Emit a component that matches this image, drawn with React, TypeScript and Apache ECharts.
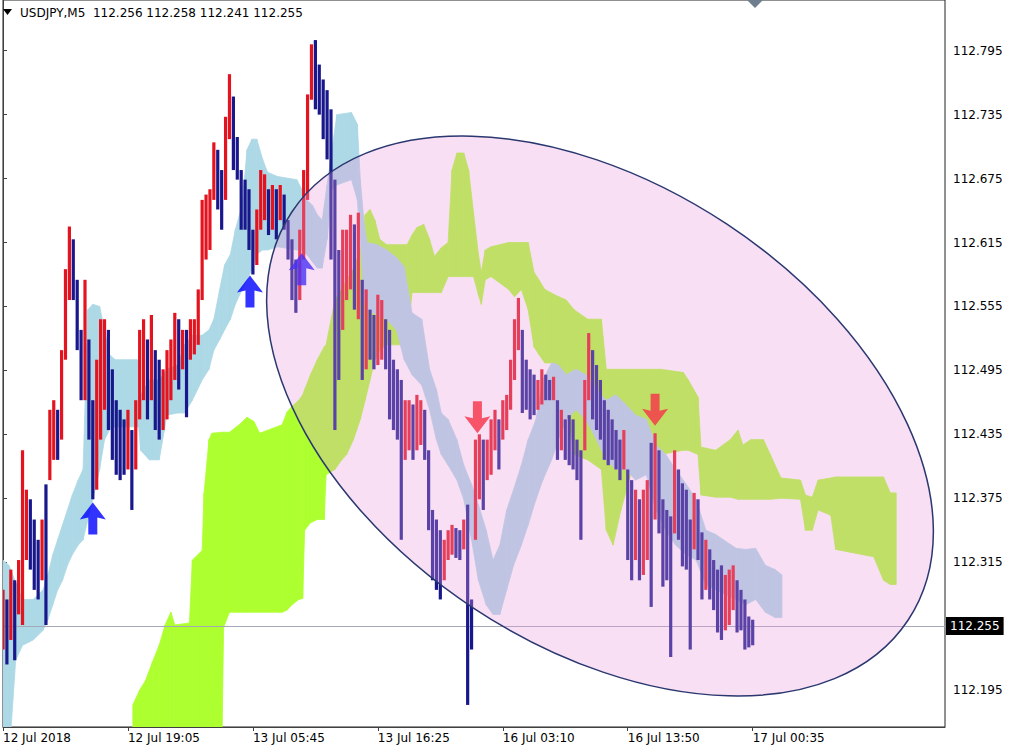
import React, { useEffect, useRef } from "react";
import * as echarts from "echarts";

// ---------- data ----------
const xTickBars = [0, 128, 256, 384, 512, 640, 768];
const xTickLabels = ["12 Jul 2018", "12 Jul 19:05", "13 Jul 05:45", "13 Jul 16:25", "16 Jul 03:10", "16 Jul 13:50", "17 Jul 00:35"];
const yTickValues = [112.195, 112.255, 112.315, 112.375, 112.435, 112.495, 112.555, 112.615, 112.675, 112.735, 112.795];
const symbolName = "USDJPY,M5";
const ohlcLast = [112.256, 112.258, 112.241, 112.255];
const lastPrice = 112.255;

// price: one stroke per 4 M5 bars
const PRICE_STEP = 4;
const priceHigh = [
  112.289, 112.280, 112.308, 112.298, 112.317, 112.420, 112.383, 112.374, 112.355, 112.336,
  112.355, 112.388, 112.458, 112.467, 112.458, 112.514, 112.590, 112.630, 112.618, 112.580,
  112.533, 112.580, 112.524, 112.467, 112.505, 112.543, 112.543, 112.533, 112.496, 112.467,
  112.458, 112.449, 112.458, 112.439, 112.467, 112.533, 112.543, 112.524, 112.547, 112.514,
  112.505, 112.496, 112.514, 112.524, 112.549, 112.543, 112.533, 112.533, 112.543, 112.543,
  112.571, 112.655, 112.660, 112.665, 112.709, 112.702, 112.683, 112.733, 112.773, 112.752,
  112.714, 112.683, 112.674, 112.665, 112.627, 112.646, 112.683, 112.679, 112.665, 112.669,
  112.665, 112.669, 112.660, 112.636, 112.618, 112.599, 112.627, 112.683, 112.754, 112.801,
  112.805, 112.782, 112.768, 112.758, 112.740, 112.674, 112.608, 112.627, 112.627, 112.641,
  112.632, 112.643, 112.580, 112.571, 112.552, 112.547, 112.566, 112.561, 112.543, 112.533,
  112.505, 112.496, 112.486, 112.467, 112.467, 112.463, 112.472, 112.467, 112.458, 112.420,
  112.364, 112.355, 112.345, 112.336, 112.345, 112.350, 112.347, 112.345, 112.355, 112.369,
  112.280, 112.430, 112.435, 112.430, 112.430, 112.449, 112.458, 112.449, 112.467, 112.472,
  112.505, 112.543, 112.563, 112.533, 112.505, 112.496, 112.491, 112.486, 112.496, 112.491,
  112.486, 112.489, 112.467, 112.458, 112.449, 112.453, 112.449, 112.430, 112.420, 112.486,
  112.530, 112.514, 112.500, 112.486, 112.467, 112.458, 112.449, 112.439, 112.430, 112.439,
  112.402, 112.392, 112.383, 112.374, 112.383, 112.392, 112.427, 112.436, 112.420, 112.374,
  112.364, 112.358, 112.420, 112.402, 112.389, 112.383, 112.355, 112.380, 112.374, 112.343,
  112.336, 112.327, 112.317, 112.308, 112.312, 112.303, 112.308, 112.312, 112.298, 112.289,
  112.280, 112.264, 112.261,
];
const priceLow = [
  112.233, 112.219, 112.242, 112.223, 112.266, 112.256, 112.317, 112.308, 112.289, 112.280,
  112.298, 112.256, 112.392, 112.411, 112.411, 112.430, 112.505, 112.561, 112.561, 112.514,
  112.467, 112.467, 112.430, 112.374, 112.383, 112.430, 112.458, 112.439, 112.411, 112.397,
  112.392, 112.397, 112.402, 112.364, 112.402, 112.449, 112.467, 112.449, 112.467, 112.439,
  112.430, 112.439, 112.449, 112.467, 112.486, 112.477, 112.496, 112.451, 112.505, 112.510,
  112.519, 112.561, 112.599, 112.608, 112.655, 112.646, 112.627, 112.655, 112.712, 112.683,
  112.674, 112.627, 112.627, 112.608, 112.585, 112.594, 112.627, 112.636, 112.622, 112.627,
  112.618, 112.636, 112.627, 112.599, 112.561, 112.549, 112.561, 112.599, 112.655, 112.749,
  112.740, 112.735, 112.712, 112.693, 112.599, 112.439, 112.486, 112.533, 112.561, 112.571,
  112.552, 112.543, 112.486, 112.496, 112.505, 112.496, 112.500, 112.505, 112.496, 112.449,
  112.439, 112.430, 112.336, 112.411, 112.420, 112.411, 112.420, 112.425, 112.411, 112.345,
  112.298, 112.289, 112.280, 112.298, 112.317, 112.322, 112.319, 112.317, 112.327, 112.181,
  112.233, 112.336, 112.374, 112.364, 112.392, 112.397, 112.420, 112.402, 112.430, 112.439,
  112.458, 112.486, 112.514, 112.455, 112.458, 112.449, 112.453, 112.458, 112.463, 112.467,
  112.467, 112.467, 112.411, 112.420, 112.411, 112.406, 112.402, 112.392, 112.336, 112.420,
  112.467, 112.449, 112.439, 112.430, 112.411, 112.406, 112.411, 112.402, 112.392, 112.402,
  112.317, 112.298, 112.317, 112.298, 112.303, 112.317, 112.273, 112.355, 112.342, 112.292,
  112.298, 112.226, 112.342, 112.336, 112.311, 112.308, 112.233, 112.327, 112.317, 112.280,
  112.289, 112.280, 112.270, 112.249, 112.242, 112.251, 112.256, 112.270, 112.249, 112.251,
  112.233, 112.235, 112.237,
];

// light-blue band (bar index, upper, lower)
const blueBar = [0, 6, 13, 20, 31, 41, 46, 51, 56, 61, 66, 71, 77, 82, 87, 92, 99, 104, 109, 115, 139, 141, 150, 160, 168, 179, 186, 194, 204, 211, 216, 222, 227, 233, 238, 245, 250, 255, 260, 266, 271, 281, 301, 306, 311, 317, 322, 327, 332, 337, 342, 357, 363, 366, 370, 373, 383, 393, 403, 411, 419, 429, 437, 444, 449, 456, 465, 472, 480, 487, 495, 502, 509, 516, 523, 531, 538, 546, 553, 562, 569, 577, 587, 597, 608, 618, 628, 638, 648, 659, 669, 679, 689, 700, 710, 720, 730, 751, 761, 771, 781, 791, 798];
const blueHigh = [112.317, 112.312, 112.296, 112.280, 112.280, 112.289, 112.303, 112.322, 112.336, 112.350, 112.364, 112.378, 112.392, 112.402, 112.552, 112.557, 112.555, 112.533, 112.510, 112.505, 112.505, 112.472, 112.486, 112.486, 112.496, 112.500, 112.519, 112.528, 112.528, 112.533, 112.543, 112.571, 112.594, 112.604, 112.627, 112.650, 112.702, 112.712, 112.712, 112.693, 112.681, 112.677, 112.674, 112.665, 112.655, 112.650, 112.641, 112.636, 112.669, 112.702, 112.735, 112.737, 112.726, 112.674, 112.632, 112.615, 112.613, 112.608, 112.601, 112.592, 112.549, 112.543, 112.496, 112.477, 112.455, 112.449, 112.430, 112.406, 112.388, 112.369, 112.345, 112.317, 112.331, 112.364, 112.383, 112.406, 112.430, 112.449, 112.486, 112.502, 112.500, 112.491, 112.496, 112.491, 112.477, 112.467, 112.472, 112.463, 112.453, 112.449, 112.425, 112.416, 112.402, 112.388, 112.374, 112.345, 112.341, 112.328, 112.327, 112.328, 112.312, 112.308, 112.303];
const blueLow = [112.129, 112.129, 112.223, 112.237, 112.242, 112.251, 112.261, 112.275, 112.289, 112.298, 112.312, 112.322, 112.331, 112.336, 112.355, 112.374, 112.402, 112.430, 112.439, 112.442, 112.442, 112.420, 112.411, 112.411, 112.453, 112.455, 112.455, 112.467, 112.486, 112.496, 112.514, 112.524, 112.533, 112.543, 112.557, 112.571, 112.580, 112.590, 112.604, 112.608, 112.608, 112.611, 112.608, 112.608, 112.604, 112.597, 112.591, 112.591, 112.618, 112.665, 112.669, 112.674, 112.655, 112.618, 112.561, 112.552, 112.547, 112.543, 112.533, 112.505, 112.491, 112.481, 112.458, 112.430, 112.416, 112.406, 112.392, 112.374, 112.336, 112.298, 112.275, 112.266, 112.266, 112.289, 112.312, 112.331, 112.350, 112.374, 112.392, 112.411, 112.430, 112.449, 112.458, 112.449, 112.430, 112.411, 112.402, 112.402, 112.392, 112.397, 112.364, 112.345, 112.331, 112.322, 112.317, 112.294, 112.289, 112.280, 112.275, 112.280, 112.268, 112.263, 112.263];

// green-yellow band (bar index, upper, lower)
const greenBar = [133, 140, 146, 153, 160, 166, 172, 176, 191, 194, 204, 206, 211, 214, 224, 226, 232, 242, 250, 257, 263, 286, 291, 296, 303, 307, 309, 315, 322, 329, 331, 340, 347, 352, 359, 366, 371, 376, 381, 386, 393, 414, 419, 424, 431, 437, 442, 449, 456, 460, 465, 472, 477, 482, 487, 490, 494, 500, 518, 524, 531, 538, 544, 549, 555, 565, 577, 585, 599, 613, 618, 625, 633, 643, 659, 674, 697, 702, 712, 715, 730, 745, 753, 758, 766, 779, 786, 797, 817, 822, 829, 835, 848, 853, 892, 902, 909, 915];
const greenHigh = [112.181, 112.195, 112.204, 112.221, 112.237, 112.256, 112.268, 112.256, 112.258, 112.317, 112.326, 112.380, 112.430, 112.436, 112.437, 112.437, 112.437, 112.444, 112.451, 112.447, 112.436, 112.444, 112.456, 112.461, 112.467, 112.472, 112.477, 112.491, 112.505, 112.517, 112.519, 112.561, 112.571, 112.580, 112.590, 112.608, 112.641, 112.646, 112.636, 112.618, 112.613, 112.613, 112.622, 112.629, 112.632, 112.618, 112.602, 112.610, 112.615, 112.683, 112.699, 112.699, 112.683, 112.643, 112.604, 112.587, 112.608, 112.611, 112.615, 112.615, 112.615, 112.615, 112.587, 112.580, 112.571, 112.566, 112.561, 112.552, 112.543, 112.543, 112.496, 112.496, 112.496, 112.496, 112.496, 112.496, 112.493, 112.486, 112.470, 112.423, 112.420, 112.430, 112.439, 112.425, 112.430, 112.430, 112.416, 112.394, 112.392, 112.378, 112.376, 112.392, 112.394, 112.395, 112.395, 112.395, 112.380, 112.380];
const greenLow = [112.129, 112.129, 112.129, 112.129, 112.129, 112.129, 112.129, 112.129, 112.129, 112.129, 112.129, 112.129, 112.129, 112.129, 112.129, 112.254, 112.268, 112.268, 112.268, 112.268, 112.268, 112.268, 112.270, 112.275, 112.280, 112.281, 112.345, 112.352, 112.355, 112.355, 112.397, 112.402, 112.411, 112.416, 112.430, 112.449, 112.467, 112.486, 112.505, 112.514, 112.519, 112.519, 112.568, 112.568, 112.568, 112.568, 112.568, 112.568, 112.583, 112.583, 112.583, 112.583, 112.583, 112.583, 112.566, 112.557, 112.580, 112.583, 112.571, 112.564, 112.571, 112.552, 112.517, 112.510, 112.502, 112.502, 112.467, 112.416, 112.411, 112.402, 112.345, 112.331, 112.364, 112.397, 112.402, 112.416, 112.420, 112.420, 112.416, 112.378, 112.376, 112.376, 112.374, 112.374, 112.374, 112.374, 112.374, 112.375, 112.374, 112.345, 112.345, 112.364, 112.359, 112.327, 112.320, 112.298, 112.294, 112.294];

// signal arrows
const buyBars = [92, 253, 306];
const buyPrices = [112.356, 112.569, 112.590];
const sellBars = [486, 668];
const sellPrices = [112.451, 112.458];

// ---------- styles ----------
const FONT = "DejaVu Sans";
const RED = "#e3141f";
const NAVY = "#18188c";
const BLUE_BAND = "#add8e6";
const GREEN_BAND = "#adff2f";
const UP_ARROW = "path://M13,0 L26,17 L17.5,15 L17.5,32 L8.5,32 L8.5,15 L0,17 Z";
const DOWN_ARROW = "path://M13,32 L26,15 L17.5,17 L17.5,0 L8.5,0 L8.5,17 L0,15 Z";

function bandSeries(name: string, bars: number[], lows: number[], highs: number[], color: string, z: number) {
  const data: number[][] = [];
  for (let i = 0; i < bars.length - 1; i++) {
    data.push([bars[i], lows[i], highs[i], bars[i + 1], lows[i + 1], highs[i + 1]]);
  }
  return {
    type: "custom",
    name,
    z,
    clip: true,
    silent: true,
    encode: { x: [0, 3], y: [1, 2, 4, 5] },
    data,
    renderItem: (_p: any, api: any) => {
      const a = api.coord([api.value(0), api.value(1)]);
      const b = api.coord([api.value(0), api.value(2)]);
      const c = api.coord([api.value(3), api.value(5)]);
      const d = api.coord([api.value(3), api.value(4)]);
      return {
        type: "polygon",
        shape: { points: [a, b, c, d] },
        style: { fill: color, stroke: color, lineWidth: 0.8 },
      };
    },
  };
}

export default function App() {
  const ref = useRef<HTMLDivElement>(null);

  useEffect(() => {
    if (!ref.current) return;
    const chart = echarts.init(ref.current, null, { renderer: "svg" });

    const priceData = priceLow.map((lo, i) => {
      const hi = priceHigh[i];
      const prevMid = i > 0 ? (priceLow[i - 1] + priceHigh[i - 1]) / 2 : (lo + hi) / 2;
      const up = (lo + hi) / 2 >= prevMid ? 1 : 0;
      return [i * PRICE_STEP, lo, hi, up];
    });

    const option: any = {
      animation: false,
      backgroundColor: "#ffffff",
      textStyle: { fontFamily: FONT },
      grid: { left: 0, top: 0, right: 67, bottom: 26, show: true, borderColor: "#222", borderWidth: 1, backgroundColor: "#fff" },
      xAxis: {
        type: "value",
        min: 0,
        max: 965,
        axisLine: { show: true, lineStyle: { color: "#404040", width: 1 } },
        axisTick: { show: true, length: 4, customValues: xTickBars, lineStyle: { color: "#404040" } },
        axisLabel: {
          customValues: xTickBars,
          align: "left",
          margin: 5,
          fontSize: 12,
          fontFamily: FONT,
          color: "#000",
          formatter: (v: number) => {
            const i = xTickBars.indexOf(Math.round(v));
            return i >= 0 ? xTickLabels[i] : "";
          },
        },
        splitLine: { show: false },
      },
      yAxis: {
        type: "value",
        position: "right",
        min: 112.1603,
        max: 112.8426,
        axisLine: { show: true, lineStyle: { color: "#404040", width: 1 } },
        axisTick: { show: true, length: 4, inside: false, customValues: yTickValues, lineStyle: { color: "#404040" } },
        axisLabel: {
          customValues: yTickValues.filter((v) => v !== lastPrice),
          margin: 8,
          fontSize: 12,
          fontFamily: FONT,
          color: "#000",
          formatter: (v: number) => v.toFixed(3),
        },
        splitLine: { show: false },
      },
      series: [
        bandSeries("Kumo B", greenBar, greenLow, greenHigh, GREEN_BAND, 2),
        bandSeries("Kumo A", blueBar, blueLow, blueHigh, BLUE_BAND, 3),
        {
          type: "custom",
          name: "USDJPY",
          z: 5,
          clip: true,
          silent: true,
          encode: { x: 0, y: [1, 2] },
          data: priceData,
          renderItem: (_p: any, api: any) => {
            const top = api.coord([api.value(0), api.value(2)]);
            const bot = api.coord([api.value(0), api.value(1)]);
            return {
              type: "rect",
              shape: { x: top[0] - 1.6, y: top[1], width: 3.2, height: Math.max(1, bot[1] - top[1]) },
              style: { fill: api.value(3) ? RED : NAVY },
            };
          },
        },
        {
          type: "scatter",
          name: "Buy",
          z: 6,
          silent: true,
          symbol: UP_ARROW,
          symbolSize: [26, 32],
          itemStyle: { color: "#0000ff" },
          data: buyBars.map((b, i) => [b, buyPrices[i]]),
          markLine: {
            silent: true,
            symbol: "none",
            precision: 3,
            z: 4,
            lineStyle: { color: "#a3a9b8", width: 1, type: "solid" },
            label: {
              show: true,
              position: "end",
              distance: 1,
              formatter: () => lastPrice.toFixed(3),
              backgroundColor: "#000",
              color: "#fff",
              padding: [3, 4, 3, 4],
              fontSize: 12,
              fontFamily: FONT,
            },
            data: [{ yAxis: lastPrice }],
          },
        },
        {
          type: "scatter",
          name: "Sell",
          z: 6,
          silent: true,
          symbol: DOWN_ARROW,
          symbolSize: [26, 32],
          itemStyle: { color: "#ff0000" },
          data: sellBars.map((b, i) => [b, sellPrices[i]]),
        },
      ],
      graphic: [
        {
          type: "ellipse",
          x: 600,
          y: 416,
          rotation: -0.585,
          z: 100,
          silent: true,
          shape: { cx: 0, cy: 0, rx: 369.5, ry: 230 },
          style: { fill: "rgba(233,157,220,0.32)", stroke: "#2b3870", lineWidth: 1.5 },
        },
        {
          type: "polygon",
          z: 101,
          silent: true,
          shape: { points: [[3, 9], [12, 9], [7.5, 15]] },
          style: { fill: "#000" },
        },
        {
          type: "text",
          z: 101,
          silent: true,
          x: 20,
          y: 13,
          style: {
            text: symbolName + "  " + ohlcLast.map((v) => v.toFixed(3)).join(" "),
            fill: "#000",
            font: "12px " + FONT,
            verticalAlign: "middle",
            align: "left",
          },
        },
        {
          type: "polygon",
          z: 101,
          silent: true,
          shape: { points: [[747, 0], [763, 0], [755, 8]] },
          style: { fill: "#6f7f90" },
        },
      ],
    };

    chart.setOption(option);
    return () => chart.dispose();
  }, []);

  return (
    <div
      ref={ref}
      style={{ position: "fixed", left: 0, top: 0, width: 1012, height: 753, background: "#fff" }}
    />
  );
}
